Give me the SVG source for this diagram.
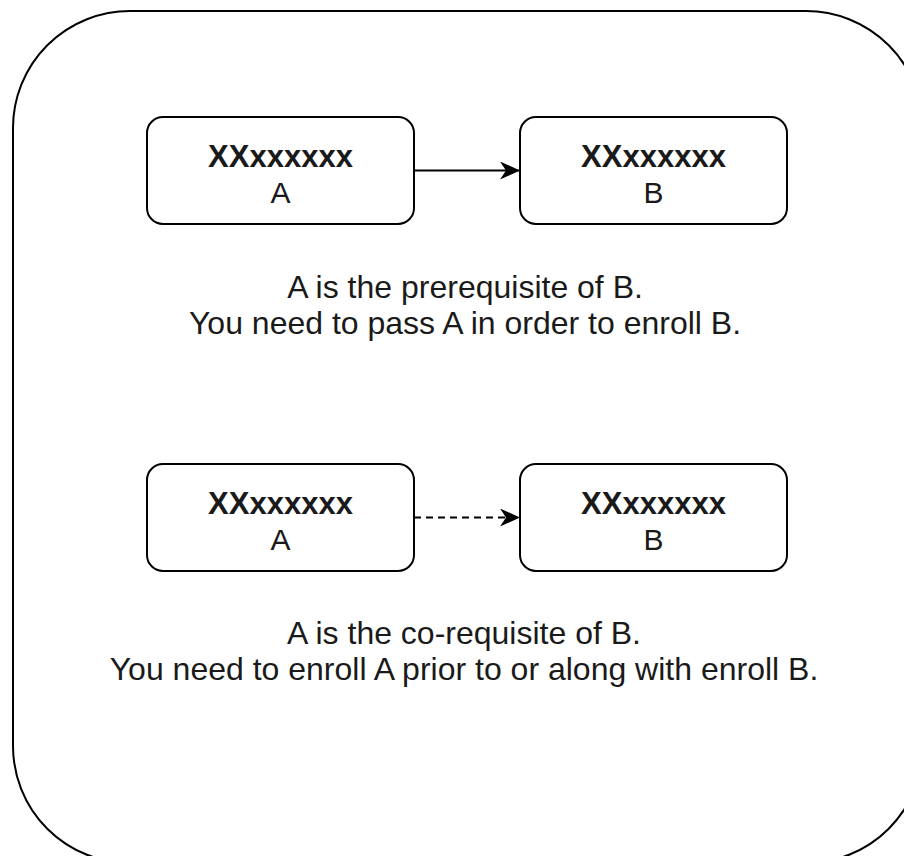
<svg xmlns="http://www.w3.org/2000/svg" width="904" height="856" viewBox="0 0 904 856">
<defs>
<style>
.box{fill:#ffffff;stroke:#000000;stroke-width:2}
.t{font-family:"Liberation Sans",Arial,sans-serif;fill:#1a1a1a;text-anchor:middle}
.title{font-size:31px;font-weight:bold}
.sub{font-size:30px}
.cap{font-size:32px}
.conn{stroke:#000000;stroke-width:2;fill:none}
</style>
<marker id="arr" viewBox="0 0 20 18" refX="19" refY="9" markerWidth="20" markerHeight="18" markerUnits="userSpaceOnUse" orient="auto">
<path d="M0,0 L20,9 L0,18 L6,9 Z" fill="#000000"/>
</marker>
</defs>
<rect width="904" height="856" fill="#ffffff"/>
<rect id="container" x="13" y="11" width="910" height="852" rx="117" ry="117" fill="#ffffff" stroke="#000000" stroke-width="2"/>
<g id="node-a1">
<rect class="box" x="147" y="117" width="267" height="107" rx="16"/>
<text class="t title" x="280.5" y="167">XXxxxxxx</text>
<text class="t sub" x="280.5" y="203">A</text>
</g>
<g id="node-b1">
<rect class="box" x="520" y="117" width="267" height="107" rx="16"/>
<text class="t title" x="653.5" y="167">XXxxxxxx</text>
<text class="t sub" x="653.5" y="203">B</text>
</g>
<g id="node-a2">
<rect class="box" x="147" y="464" width="267" height="107" rx="16"/>
<text class="t title" x="280.5" y="514">XXxxxxxx</text>
<text class="t sub" x="280.5" y="550">A</text>
</g>
<g id="node-b2">
<rect class="box" x="520" y="464" width="267" height="107" rx="16"/>
<text class="t title" x="653.5" y="514">XXxxxxxx</text>
<text class="t sub" x="653.5" y="550">B</text>
</g>
<g id="captions">
<text class="t cap" x="465" y="298">A is the prerequisite of B.</text>
<text class="t cap" x="465" y="334">You need to pass A in order to enroll B.</text>
<text class="t cap" x="464" y="644">A is the co-requisite of B.</text>
<text class="t cap" x="464" y="680">You need to enroll A prior to or along with enroll B.</text>
</g>
<g id="connectors">
<line class="conn" x1="414" y1="170.5" x2="519" y2="170.5" marker-end="url(#arr)"/>
<line class="conn" x1="414" y1="517.5" x2="519" y2="517.5" stroke-dasharray="7,5" marker-end="url(#arr)"/>
</g>
</svg>
